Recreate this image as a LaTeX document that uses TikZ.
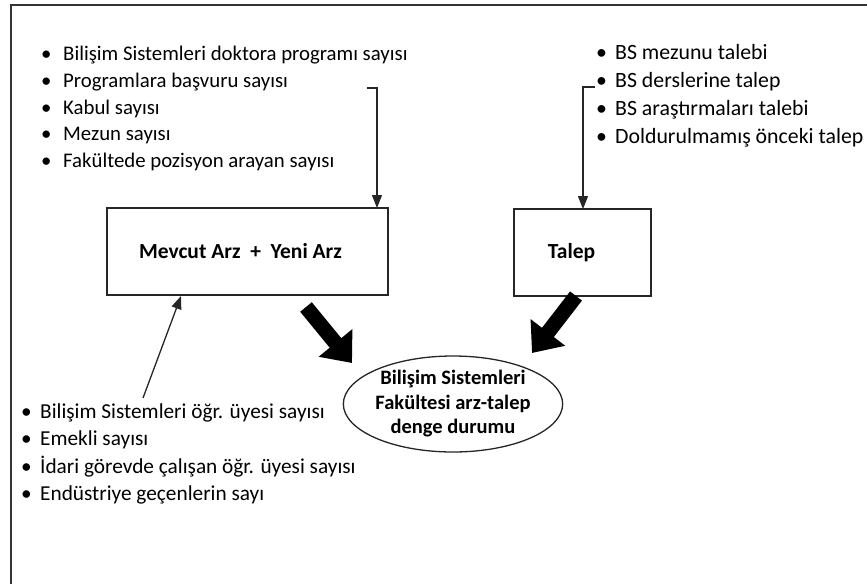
\documentclass[tikz,border=0pt]{standalone}
\usepackage{fontspec}
\setmainfont{Carlito}
\usetikzlibrary{arrows.meta,shapes.geometric,calc}

% bullet line: bullet in a box of the given width, then the item text
\newcommand{\blt}[2]{\makebox[#1][l]{\textbullet}#2}

\begin{document}
\begin{tikzpicture}[x=1pt,y=-1pt,
  frameline/.style={line width=2pt, draw=black!80},
  listtext/.style={align=left, anchor=west, inner sep=0pt},
  boxnode/.style={draw=black!85, line width=1.6pt, inner sep=0pt, font=\fontsize{21.5}{24}\selectfont\bfseries},
  thinarrow/.style={line width=1.3pt, draw=black!85, -{Triangle[length=13pt,width=10pt]}},
  bigarrow/.style={line width=15pt, draw=black, -{Triangle[length=26pt,width=42pt]}},
]
\useasboundingbox (0,0) rectangle (867,584);

% outer frame (left and top edges)
\draw[frameline] (11,584) -- (11,5) -- (867,5);

% factor lists
\node[listtext, font=\fontsize{20.8}{26.75}\selectfont] (supplyList) at (41,108.5) {%
  \blt{22pt}{Bilişim Sistemleri doktora programı sayısı}\\
  \blt{22pt}{Programlara başvuru sayısı}\\
  \blt{22pt}{Kabul sayısı}\\
  \blt{22pt}{Mezun sayısı}\\
  \blt{22pt}{Fakültede pozisyon arayan sayısı}};
\node[listtext, font=\fontsize{21.8}{28}\selectfont] (demandList) at (596,95.5) {%
  \blt{19pt}{BS mezunu talebi}\\
  \blt{19pt}{BS derslerine talep}\\
  \blt{19pt}{BS araştırmaları talebi}\\
  \blt{19pt}{Doldurulmamış önceki talep}};
\node[listtext, font=\fontsize{21.3}{27.3}\selectfont] (staffList) at (21,454) {%
  \blt{19pt}{Bilişim Sistemleri öğr. üyesi sayısı}\\
  \blt{19pt}{Emekli sayısı}\\
  \blt{19pt}{İdari görevde çalışan öğr. üyesi sayısı}\\
  \blt{19pt}{Endüstriye geçenlerin sayı}};

% main boxes
\node[boxnode, minimum width=281pt, minimum height=87pt] (supply) at (247.5,251.5) {Mevcut Arz\ \ +\ \ Yeni Arz\hspace*{14pt}};
\node[boxnode, minimum width=137pt, minimum height=87pt] (demand) at (582.5,252.5) {Talep\hspace*{22pt}};

% balance ellipse
\node[ellipse, draw=black!85, line width=1.3pt, minimum width=218pt, minimum height=96pt, inner sep=0pt,
      align=center, font=\fontsize{20.5}{24.5}\selectfont\bfseries] (balance) at (453,404)
  {Bilişim Sistemleri\\Fakültesi arz-talep\\denge durumu};

% connector end points
\coordinate (supplyTap) at (367,88);
\coordinate (supplyHit) at (377,208);
\coordinate (demandTap) at (595,87);
\coordinate (demandHit) at (583,209);
\coordinate (staffTap) at (143,398);
\coordinate (staffHit) at (181,296);
\coordinate (supplyOut) at (306,307);
\coordinate (supplyTip) at (352,363);
\coordinate (demandOut) at (576,296);
\coordinate (demandTip) at (532,353);

% thin arrows from the lists into the boxes
\draw[thinarrow] (supplyTap) -| (supplyHit);
\draw[thinarrow] (demandTap) -| (demandHit);
\draw[thinarrow] (staffTap) -- (staffHit);

% heavy arrows into the balance
\draw[bigarrow] (supplyOut) -- (supplyTip);
\draw[bigarrow] (demandOut) -- (demandTip);
\end{tikzpicture}
\end{document}
